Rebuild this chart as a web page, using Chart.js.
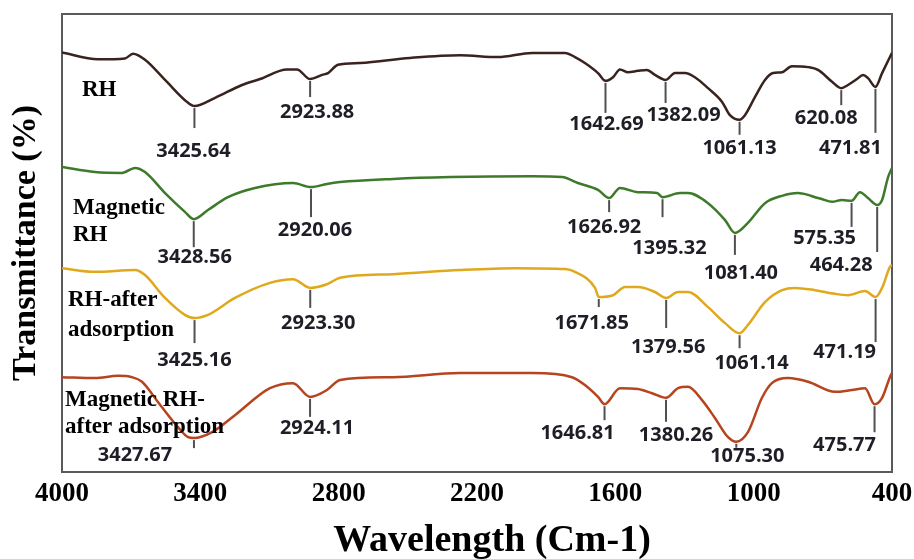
<!DOCTYPE html>
<html lang="en">
<head>
<meta charset="UTF-8">
<title>FTIR spectra of rice husk samples</title>
<style>
  html, body { margin: 0; padding: 0; background: #fff; }
  #wrap { width: 914px; height: 559px; }
</style>
</head>
<body>
<div id="wrap"><canvas id="ftir" width="914" height="559"></canvas></div>

<script src="https://cdn.jsdelivr.net/npm/chart.js@4.4.1/dist/chart.umd.min.js"></script>
<script>
// wavenumber (cm-1) and offset transmittance for each sample
var rhWave = [4000, 3844, 3727, 3692, 3640, 3553, 3453, 3425.64, 3336, 3219, 3141, 3024, 2981, 2923.88, 2872, 2846, 2803, 2707, 2491, 2274, 2109, 1961, 1818, 1775, 1732, 1675, 1642.69, 1610, 1580, 1545, 1502, 1463, 1428, 1382.09, 1341, 1298, 1255, 1198, 1137, 1103, 1061.13, 1038, 994, 951, 916, 877, 834, 764, 721, 660, 620.08, 591, 552, 526, 504, 471.81, 443, 409, 400];
var rhT = [91.6, 90.1, 90.3, 91.3, 90.0, 85.6, 80.6, 79.9, 81.7, 84.5, 85.8, 87.9, 87.9, 85.8, 86.7, 87.1, 88.9, 89.3, 90.4, 91.0, 90.6, 91.5, 91.5, 90.6, 89.3, 87.1, 85.4, 86.2, 87.9, 87.3, 87.6, 87.8, 86.7, 85.6, 87.1, 87.1, 86.2, 83.8, 80.8, 77.9, 76.9, 77.9, 81.9, 85.6, 87.1, 87.3, 88.6, 88.4, 87.8, 85.2, 83.8, 84.5, 85.8, 86.7, 86.0, 84.1, 87.1, 90.6, 91.5];

var magWave = [4000, 3857, 3740, 3683, 3640, 3553, 3467, 3428.56, 3367, 3280, 3163, 2998, 2920.06, 2851, 2794, 2564, 2317, 1961, 1831, 1762, 1675, 1626.92, 1580, 1502, 1419, 1395.32, 1320, 1285, 1198, 1124, 1081.40, 1025, 951, 877, 808, 764, 734, 705, 660, 617, 575.35, 539, 504, 464.28, 443, 417, 400];
var magT = [66.6, 65.5, 65.3, 66.4, 65.5, 60.9, 56.8, 55.2, 57.2, 60.0, 62.0, 63.1, 62.2, 62.9, 63.3, 64.0, 64.4, 64.6, 64.4, 63.1, 61.6, 59.8, 62.0, 61.1, 60.9, 60.0, 60.9, 60.9, 58.7, 55.0, 52.2, 54.4, 58.7, 60.3, 60.9, 60.5, 60.0, 59.6, 59.0, 59.4, 59.2, 61.1, 59.8, 58.3, 59.4, 64.4, 66.4];

var rhAdsWave = [4000, 3857, 3683, 3640, 3553, 3467, 3425.16, 3367, 3250, 3098, 2998, 2923.30, 2851, 2794, 2564, 2274, 2035, 1818, 1775, 1688, 1671.85, 1610, 1558, 1502, 1428, 1379.56, 1328, 1285, 1198, 1124, 1061.14, 1025, 951, 877, 821, 734, 647, 591, 517, 471.19, 443, 409, 400];
var rhAdsT = [44.5, 43.7, 44.1, 43.0, 38.0, 34.3, 33.6, 34.3, 38.0, 41.3, 42.1, 40.2, 41.0, 42.4, 43.2, 44.1, 44.5, 44.3, 43.7, 40.2, 38.2, 38.6, 40.4, 40.4, 39.3, 38.0, 39.3, 39.3, 36.0, 32.5, 30.3, 32.1, 37.1, 39.7, 40.2, 39.7, 38.9, 38.6, 39.5, 38.2, 40.2, 44.8, 45.2];

var magAdsWave = [4000, 3857, 3757, 3696, 3653, 3584, 3497, 3453, 3427.67, 3349, 3250, 3098, 2998, 2924.11, 2851, 2794, 2564, 2274, 1961, 1788, 1732, 1675, 1646.81, 1580, 1502, 1441, 1380.26, 1328, 1285, 1224, 1168, 1111, 1075.30, 1025, 964, 921, 851, 764, 647, 574, 517, 475.77, 443, 409, 400];
var magAdsT = [20.7, 20.5, 21.0, 20.7, 19.7, 15.3, 9.8, 7.6, 7.4, 8.7, 12.4, 18.3, 19.4, 16.4, 17.9, 20.1, 20.7, 21.6, 21.6, 20.7, 19.0, 16.4, 14.8, 18.3, 18.1, 17.2, 16.2, 18.3, 18.6, 15.7, 11.8, 7.6, 6.6, 8.7, 16.2, 19.4, 20.5, 19.7, 17.5, 17.9, 18.3, 14.8, 16.2, 20.7, 21.6];

// band positions written under each spectrum
var rhPeaks = ['3425.64', '2923.88', '1642.69', '1382.09', '1061.13', '620.08', '471.81'];
var magPeaks = ['3428.56', '2920.06', '1626.92', '1395.32', '1081.40', '575.35', '464.28'];
var rhAdsPeaks = ['3425.16', '2923.30', '1671.85', '1379.56', '1061.14', '471.19'];
var magAdsPeaks = ['3427.67', '2924.11', '1646.81', '1380.26', '1075.30', '475.77'];

var sampleNames = [['RH'], ['Magnetic', 'RH'], ['RH-after', 'adsorption'], ['Magnetic RH-', 'after adsorption']];
var xTicks = [4000, 3400, 2800, 2200, 1600, 1000, 400];
var xTitle = 'Wavelength (Cm-1)';

var series = [
    { wave: rhWave, t: rhT, peaks: rhPeaks, color: '#3a231f' },
    { wave: magWave, t: magT, peaks: magPeaks, color: '#3d7a2a' },
    { wave: rhAdsWave, t: rhAdsT, peaks: rhAdsPeaks, color: '#e0a81c' },
    { wave: magAdsWave, t: magAdsT, peaks: magAdsPeaks, color: '#b5441f' }
];

// tick length, label dx, label dy (px, measured from the band minimum)
var peakLayout = [
    [[22, -1, 45], [18, 7, 33], [32, 1, 43], [23, 18, 35], [15, 0, 28], [17, -15, 30], [46, -25, 61]],
    [[28, 1, 38], [30, 4, 43], [14, -5, 29], [20, 7, 51], [22, 6, 40], [26, -27, 37], [47, -36, 60]],
    [[25, 0, 42], [20, 8, 35], [10, -7, 26], [30, 2, 49], [15, 12, 30], [45, -31, 55]],
    [[10, -59, 17], [20, 7, 31], [16, -27, 29], [24, 10, 37], [6, 11, 15], [28, -30, 41]]
];
// left edge, first line centre and line gap of the sample names (px from plot corner)
var nameLayout = [[20, 76, 0], [11, 194, 27], [6, 286, 30], [3, 386, 27]];

var frame = {
    id: 'frame',
    beforeDatasetsDraw: function (chart) {
        var a = chart.chartArea, ctx = chart.ctx;
        ctx.save();
        ctx.strokeStyle = '#5a5a5a';
        ctx.lineWidth = 2;
        ctx.strokeRect(a.left, a.top, a.right - a.left, a.bottom - a.top);
        ctx.restore();
    }
};

var peakMarks = {
    id: 'peakMarks',
    afterDatasetsDraw: function (chart) {
        var ctx = chart.ctx, x = chart.scales.x, y = chart.scales.y, a = chart.chartArea;
        ctx.save();
        series.forEach(function (s, si) {
            s.peaks.forEach(function (txt, pi) {
                var w = parseFloat(txt);
                var idx = s.wave.indexOf(w);
                var px = x.getPixelForValue(w);
                var py = y.getPixelForValue(s.t[idx]);
                var lay = peakLayout[si][pi];
                ctx.strokeStyle = '#505050';
                ctx.lineWidth = 2;
                ctx.beginPath();
                ctx.moveTo(px, py + 2);
                ctx.lineTo(px, py + lay[0]);
                ctx.stroke();
                ctx.fillStyle = '#1e1e26';
                ctx.font = 'bold 20px "Open Sans"';
                ctx.textAlign = 'center';
                ctx.textBaseline = 'middle';
                ctx.fillText(txt, px + lay[1], py + lay[2]);
            });
        });
        // sample names
        ctx.fillStyle = '#000';
        ctx.font = 'bold 23px "Liberation Serif"';
        ctx.textAlign = 'left';
        ctx.textBaseline = 'middle';
        sampleNames.forEach(function (lines, i) {
            var n = nameLayout[i];
            lines.forEach(function (line, k) {
                ctx.fillText(line, a.left + n[0], a.top + n[1] + k * n[2]);
            });
        });
        // axis title, sitting a little right of the plot centre
        ctx.font = 'bold 38px "Liberation Serif"';
        ctx.textAlign = 'center';
        ctx.textBaseline = 'alphabetic';
        ctx.fillText(xTitle, (a.left + a.right) / 2 + 15, a.bottom + 79);
        ctx.restore();
    }
};

var datasets = series.map(function (s, i) {
    return {
        label: sampleNames[i].join(' '),
        data: s.wave.map(function (w, k) { return { x: w, y: s.t[k] }; }),
        borderColor: s.color,
        borderWidth: 2.5,
        pointRadius: 0,
        fill: false,
        cubicInterpolationMode: 'monotone'
    };
});

new Chart(document.getElementById('ftir').getContext('2d'), {
    type: 'line',
    data: { datasets: datasets },
    options: {
        responsive: false,
        animation: false,
        layout: { padding: { top: 14, right: 22, left: 0, bottom: 0 } },
        plugins: { legend: { display: false }, tooltip: { enabled: false } },
        scales: {
            x: {
                type: 'linear',
                reverse: true,
                min: 400,
                max: 4000,
                grid: { display: false, drawTicks: false },
                border: { display: false },
                afterBuildTicks: function (s) { s.ticks = xTicks.map(function (v) { return { value: v }; }); },
                afterFit: function (s) {
                    s.height = 87;
                    s.paddingLeft = 0;
                    s.paddingRight = 0;
                },
                ticks: {
                    autoSkip: false,
                    maxRotation: 0,
                    padding: 6,
                    color: '#000',
                    callback: function (v) { return String(v); },
                    font: { family: 'Liberation Serif', weight: 'bold', size: 27 }
                },
                title: { display: false }
            },
            y: {
                min: 0,
                max: 100,
                grid: { display: false, drawTicks: false },
                border: { display: false },
                ticks: { display: false },
                afterFit: function (s) { s.width = 62; },
                title: {
                    display: true,
                    text: 'Transmittance (%)',
                    color: '#000',
                    padding: { top: 9, bottom: 0 },
                    font: { family: 'Liberation Serif', weight: 'bold', size: 34, lineHeight: 1 }
                }
            }
        }
    },
    plugins: [frame, peakMarks]
});
</script>
</body>
</html>
